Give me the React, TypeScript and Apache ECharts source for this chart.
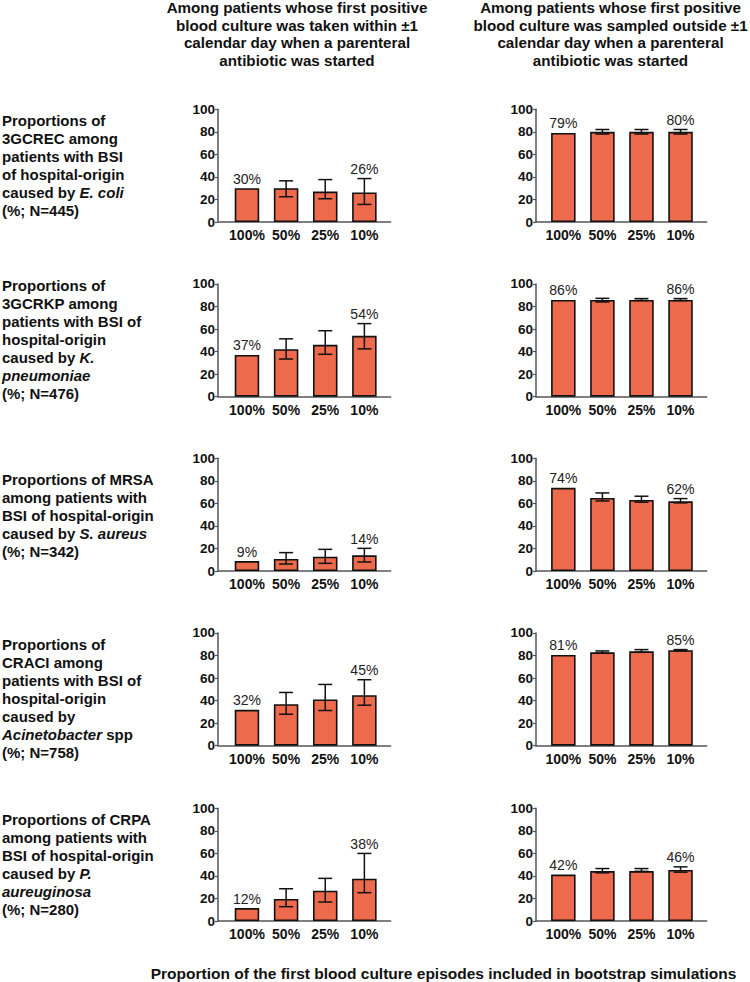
import React, { useEffect, useRef } from "react";
import * as echarts from "echarts";

const FONT = '"Liberation Sans", Arial, Helvetica, sans-serif';

const categories = ["100%", "50%", "25%", "10%"];
const yTicks = { min: 0, max: 100, interval: 20 };

const headerLeft =
  "Among patients whose first positive\nblood culture was taken within ±1\ncalendar day when a parenteral\nantibiotic was started";
const headerRight =
  "Among patients whose first positive\nblood culture was sampled outside ±1\ncalendar day when a parenteral\nantibiotic was started";
const xTitle = "Proportion of the first blood culture episodes included in bootstrap simulations";

const rowLabels = [
  "Proportions of\n3GCREC among\npatients with BSI\nof hospital-origin\ncaused by {i|E. coli}\n(%; N=445)",
  "Proportions of\n3GCRKP among\npatients with BSI of\nhospital-origin\ncaused by {i|K.}\n{i|pneumoniae}\n(%; N=476)",
  "Proportions of MRSA\namong patients with\nBSI of hospital-origin\ncaused by {i|S. aureus}\n(%; N=342)",
  "Proportions of\nCRACI among\npatients with BSI of\nhospital-origin\ncaused by\n{i|Acinetobacter} spp\n(%; N=758)",
  "Proportions of CRPA\namong patients with\nBSI of hospital-origin\ncaused by {i|P.}\n{i|aureuginosa}\n(%; N=280)",
];

// Left column: first blood culture within ±1 day
const withinMeans = [
  [30, 30, 27, 26.2],
  [37, 42.1, 46, 54],
  [8.8, 10.7, 12.7, 13.9],
  [31.8, 36.8, 41, 44.8],
  [11.5, 19.5, 26.9, 37.5],
];
const withinLow = [
  [null, 22.4, 20.6, 15.6],
  [null, 33.4, 37.6, 42.4],
  [null, 6.2, 6.8, 8],
  [null, 27.9, 31.2, 35.9],
  [null, 12.7, 16.8, 25.1],
];
const withinHigh = [
  [null, 36.5, 37.6, 38.5],
  [null, 51.3, 58.5, 64.8],
  [null, 16.3, 19.2, 20.1],
  [null, 47.2, 54.3, 58.5],
  [null, 28.6, 37.8, 59.9],
];
const withinLabels = [
  ["30%", null, null, "26%"],
  ["37%", null, null, "54%"],
  ["9%", null, null, "14%"],
  ["32%", null, null, "45%"],
  ["12%", null, null, "38%"],
];

// Right column: first blood culture outside ±1 day
const outsideMeans = [
  [79, 79.9, 79.9, 79.9],
  [85.8, 85.8, 85.8, 85.8],
  [73.7, 64.8, 63, 61.8],
  [80.5, 82.8, 83.7, 84.6],
  [41.2, 44.3, 44.3, 45.3],
];
const outsideLow = [
  [null, 78, 78, 78],
  [null, 84, 85.3, 85.3],
  [null, 62.1, 61, 60.4],
  [null, 82, 82.8, 84],
  [null, 42.7, 44, 43.3],
];
const outsideHigh = [
  [null, 82, 82, 82],
  [null, 87.2, 87, 87],
  [null, 69.2, 66.3, 64.2],
  [null, 84, 85.2, 85.2],
  [null, 46.5, 46.5, 48],
];
const outsideLabels = [
  ["79%", null, null, "80%"],
  ["86%", null, null, "86%"],
  ["74%", null, null, "62%"],
  ["81%", null, null, "85%"],
  ["42%", null, null, "46%"],
];

// Layout
const rowTops = [109.2, 283.9, 458.2, 632.9, 808.2];
const rowLabelTops = [111.7, 276.7, 470, 635.3, 810.3];
const plotHeight = 112.8;
const colLeft = [218, 536];
const colWidth = [172.6, 170.7];
const colMin = [-0.74, -0.7];
const xMax = 3.67;

const BAR_COLOR = "#EE6A4C";
const AXIS_COLOR = "#555";

function buildOption() {
  const grid: any[] = [];
  const xAxis: any[] = [];
  const yAxis: any[] = [];
  const series: any[] = [];
  const cols = [
    { means: withinMeans, low: withinLow, high: withinHigh, labels: withinLabels },
    { means: outsideMeans, low: outsideLow, high: outsideHigh, labels: outsideLabels },
  ];
  for (let r = 0; r < 5; r++) {
    for (let c = 0; c < 2; c++) {
      const idx = grid.length;
      grid.push({ left: colLeft[c], top: rowTops[r], width: colWidth[c], height: plotHeight });
      xAxis.push({
        type: "value",
        gridIndex: idx,
        min: colMin[c],
        max: xMax,
        axisLine: { show: true, onZero: false, lineStyle: { color: AXIS_COLOR, width: 1.5 } },
        axisTick: { show: false },
        splitLine: { show: false },
        axisLabel: {
          customValues: [0, 1, 2, 3],
          formatter: (v: number) => categories[Math.round(v)] ?? "",
          fontFamily: FONT,
          fontWeight: "bold",
          fontSize: 14,
          color: "#111",
          margin: 6,
        },
      });
      yAxis.push({
        type: "value",
        gridIndex: idx,
        min: yTicks.min,
        max: yTicks.max,
        interval: yTicks.interval,
        axisLine: { show: true, onZero: false, lineStyle: { color: AXIS_COLOR, width: 1.5 } },
        axisTick: { show: true, length: 3, lineStyle: { color: AXIS_COLOR, width: 1.2 } },
        splitLine: { show: false },
        axisLabel: {
          fontFamily: FONT,
          fontWeight: "bold",
          fontSize: 13.5,
          color: "#111",
          margin: 3,
        },
      });
      const col = cols[c];
      const means = col.means[r];
      const lows = col.low[r];
      const highs = col.high[r];
      const labels = col.labels[r];
      series.push({
        type: "bar",
        xAxisIndex: idx,
        yAxisIndex: idx,
        barWidth: 24.5,
        data: means.map((m, i) => [i, m]),
        itemStyle: { color: BAR_COLOR, borderColor: "#111", borderWidth: 1.6 },
        z: 2,
      });
      series.push({
        type: "custom",
        xAxisIndex: idx,
        yAxisIndex: idx,
        z: 5,
        data: means.map((m, i) => [i, m]),
        renderItem: (params: any, api: any) => {
          const i = params.dataIndex;
          const x = i;
          const mean = means[i];
          const lo = lows[i];
          const hi = highs[i];
          const children: any[] = [];
          const hasErr = typeof lo === "number" && typeof hi === "number";
          if (hasErr) {
            const pHi = api.coord([x, hi]);
            const pLo = api.coord([x, lo]);
            const half = 7;
            const ls = { stroke: "#111", lineWidth: 1.5 };
            children.push({ type: "line", shape: { x1: pHi[0], y1: pHi[1], x2: pLo[0], y2: pLo[1] }, style: ls });
            children.push({ type: "line", shape: { x1: pHi[0] - half, y1: pHi[1], x2: pHi[0] + half, y2: pHi[1] }, style: ls });
            children.push({ type: "line", shape: { x1: pLo[0] - half, y1: pLo[1], x2: pLo[0] + half, y2: pLo[1] }, style: ls });
          }
          const txt = labels[i];
          if (txt) {
            const top = hasErr ? Math.max(mean, hi as number) : mean;
            const p = api.coord([x, top]);
            children.push({
              type: "text",
              x: p[0],
              y: p[1] - 9.5,
              style: {
                text: txt,
                fontFamily: FONT,
                fontSize: 14,
                fill: "#222",
                align: "center",
                verticalAlign: "middle",
                textAlign: "center",
                textVerticalAlign: "middle",
              },
            });
          }
          return { type: "group", children };
        },
      });
    }
  }

  const graphic: any[] = [];
  const headerStyle = {
    fontFamily: FONT,
    fontWeight: "bold",
    fontSize: 15.2,
    lineHeight: 17.8,
    fill: "#111",
    align: "center",
    verticalAlign: "middle",
    textAlign: "center",
    textVerticalAlign: "middle",
  };
  graphic.push({ type: "text", x: 297, y: 34, style: { ...headerStyle, text: headerLeft } });
  graphic.push({ type: "text", x: 610.5, y: 34, style: { ...headerStyle, text: headerRight } });
  graphic.push({ type: "text", x: 443.5, y: 973, style: { ...headerStyle, fontSize: 15.5, text: xTitle } });
  rowLabels.forEach((t, r) => {
    graphic.push({
      type: "text",
      x: 2,
      y: rowLabelTops[r],
      style: {
        text: t,
        fontFamily: FONT,
        fontWeight: "bold",
        fontSize: 15,
        lineHeight: 18,
        fill: "#111",
        align: "left",
        verticalAlign: "top",
        textAlign: "left",
        textVerticalAlign: "top",
        rich: {
          i: {
            fontFamily: FONT,
            fontWeight: "bold",
            fontStyle: "italic",
            fontSize: 15,
            lineHeight: 18,
            fill: "#111",
          },
        },
      },
    });
  });

  return {
    animation: false,
    backgroundColor: "#ffffff",
    grid,
    xAxis,
    yAxis,
    series,
    graphic,
  };
}

export default function App() {
  const ref = useRef<HTMLDivElement>(null);
  useEffect(() => {
    if (!ref.current) return;
    const chart = echarts.init(ref.current, null, { renderer: "svg" });
    chart.setOption(buildOption() as any);
    return () => chart.dispose();
  }, []);
  return (
    <div
      ref={ref}
      style={{ position: "absolute", left: 0, top: 0, width: 750, height: 982, background: "#fff" }}
    />
  );
}
